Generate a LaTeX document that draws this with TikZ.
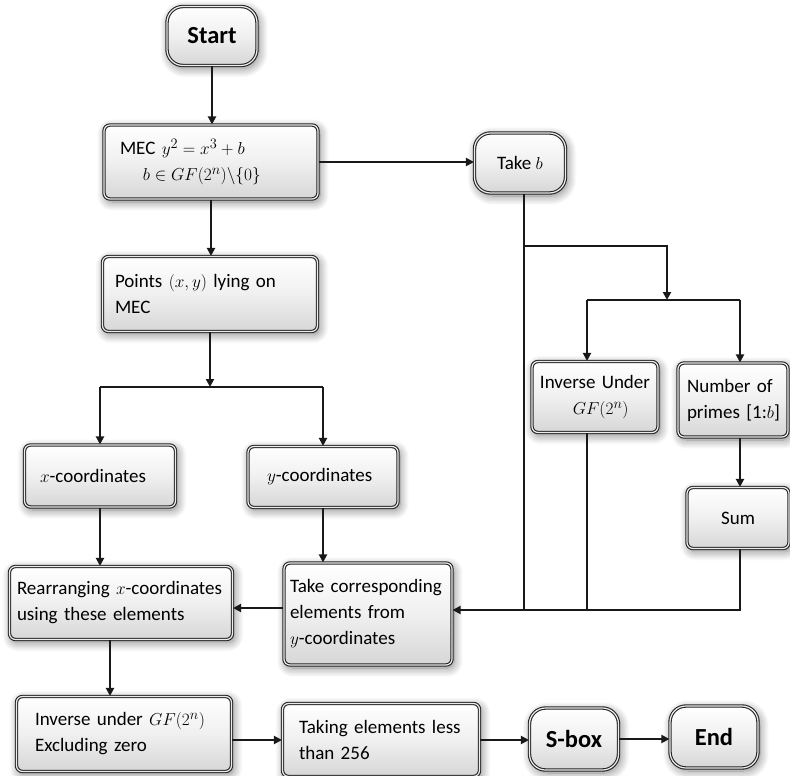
\documentclass[tikz,border=0pt]{standalone}
\usepackage{fontspec}
\setmainfont{Carlito}
\usetikzlibrary{shadows.blur,arrows.meta}
\newcommand\tline[1]{\mbox{#1}}
\begin{document}
\begin{tikzpicture}[x=1pt,y=-1pt,
  base/.style={draw=black!85, line width=1.1pt, double=gray!15, double distance=1.2pt,
    top color=white, bottom color=gray!32, middle color=gray!12,
    blur shadow={shadow xshift=2pt, shadow yshift=-3pt, shadow blur radius=9pt, shadow opacity=50, shadow blur steps=10},
    inner sep=0pt, font=\fontsize{19}{26}\selectfont},
  box/.style={base, rounded corners=6pt},
  term/.style={base, rounded corners=16pt, font=\fontsize{24.5}{28}\selectfont\bfseries},
  lin/.style={line width=2.5pt, draw=black!90},
  arr/.style={lin, -{Triangle[length=8pt,width=8pt]}}
]
\useasboundingbox (0,0) rectangle (790,776);

\node[term, minimum width=90, minimum height=59] (start) at (212,36) {Start};
\node[box, minimum width=214, minimum height=74, text width=182, align=left] (mec) at (211,162)
  {\tline{MEC $y^2=x^3+b$}\\\tline{\hspace*{1.2em}$b\in GF(2^n)\backslash\{0\}$}};
\node[box, rounded corners=16pt, minimum width=91, minimum height=60] (takeb) at (520,163) {Take $b$};
\node[box, minimum width=215, minimum height=75, text width=190, align=left] (points) at (210,294)
  {\tline{Points $(x,y)$ lying on}\\MEC};
\node[box, minimum width=151, minimum height=62, text width=120, align=left] (xc) at (100,476) {\tline{$x$-coordinates}};
\node[box, minimum width=150, minimum height=61, text width=112, align=left] (yc) at (323,477) {\tline{$y$-coordinates}};
\node[box, minimum width=223, minimum height=73, text width=208, align=left] (re) at (121,603)
  {\tline{Rearranging $x$-coordinates}\\\tline{using these elements}};
\node[box, minimum width=168, minimum height=102, text width=156, align=left] (tc) at (368,614)
  {\tline{Take corresponding}\\\tline{elements from}\\\tline{$y$-coordinates}};
\node[box, minimum width=126, minimum height=71, text width=122, align=center] (invu) at (595,397)
  {\tline{Inverse Under}\\\tline{\hspace*{0.6em}$GF(2^n)$}};
\node[box, minimum width=110, minimum height=74, text width=92, align=left] (num) at (733,400)
  {\tline{Number of}\\\tline{primes [1:$b$]}};
\node[box, minimum width=102, minimum height=61] (sum) at (738,518) {Sum};
\node[box, minimum width=215, minimum height=75, text width=178, align=left] (iu) at (124,734)
  {\tline{Inverse under $GF(2^n)$}\\\tline{Excluding zero}};
\node[box, minimum width=197, minimum height=73, text width=164, align=left] (tk) at (381,740)
  {\tline{Taking elements less}\\\tline{than 256}};
\node[term, minimum width=89, minimum height=62] (sb) at (574,739) {S-box};
\node[term, minimum width=88, minimum height=62] (end) at (714,737) {End};

\coordinate (j1) at (210,387);
\coordinate (b1) at (524,246);
\coordinate (b2) at (667,246);
\coordinate (b3) at (667,300);
\coordinate (bot) at (524,610);
\coordinate (c1) at (587,300);
\coordinate (c2) at (740,300);

\draw[arr] (start.south) -- (start.south |- mec.north);
\draw[arr] (mec.east) -- (mec.east -| takeb.west);
\draw[arr] (mec.south) -- (mec.south |- points.north);
\draw[arr] (points.south) -- (j1);
\draw[lin] (xc.north |- j1) -- (yc.north |- j1);
\draw[arr] (xc.north |- j1) -- (xc.north);
\draw[arr] (yc.north |- j1) -- (yc.north);

\draw[lin] (b1 |- takeb.south) -- (bot);
\draw[arr] (b1) -- (b2) -- (b3);
\draw[lin] (c1) -- (c2);
\draw[arr] (c1) -- (c1 |- invu.north);
\draw[arr] (c2) -- (c2 |- num.north);
\draw[arr] (c2 |- num.south) -- (c2 |- sum.north);
\draw[lin] (c1 |- invu.south) -- (c1 |- bot);
\draw[arr] (c2 |- sum.south) -- (c2 |- bot) -- (tc.east |- bot);

\draw[arr] (yc.south) -- (yc.south |- tc.north);
\draw[arr] (xc.south) -- (xc.south |- re.north);
\draw[arr] ([yshift=6pt]tc.west) -- ([yshift=6pt]tc.west -| re.east);
\draw[arr] ([xshift=-11pt]re.south) -- ([xshift=-11pt]re.south |- iu.north);
\draw[arr] (iu.east |- tk.west) -- (tk.west);
\draw[arr] (tk.east) -- (tk.east -| sb.west);
\draw[arr] (sb.east) -- (sb.east -| end.west);
\end{tikzpicture}
\end{document}
